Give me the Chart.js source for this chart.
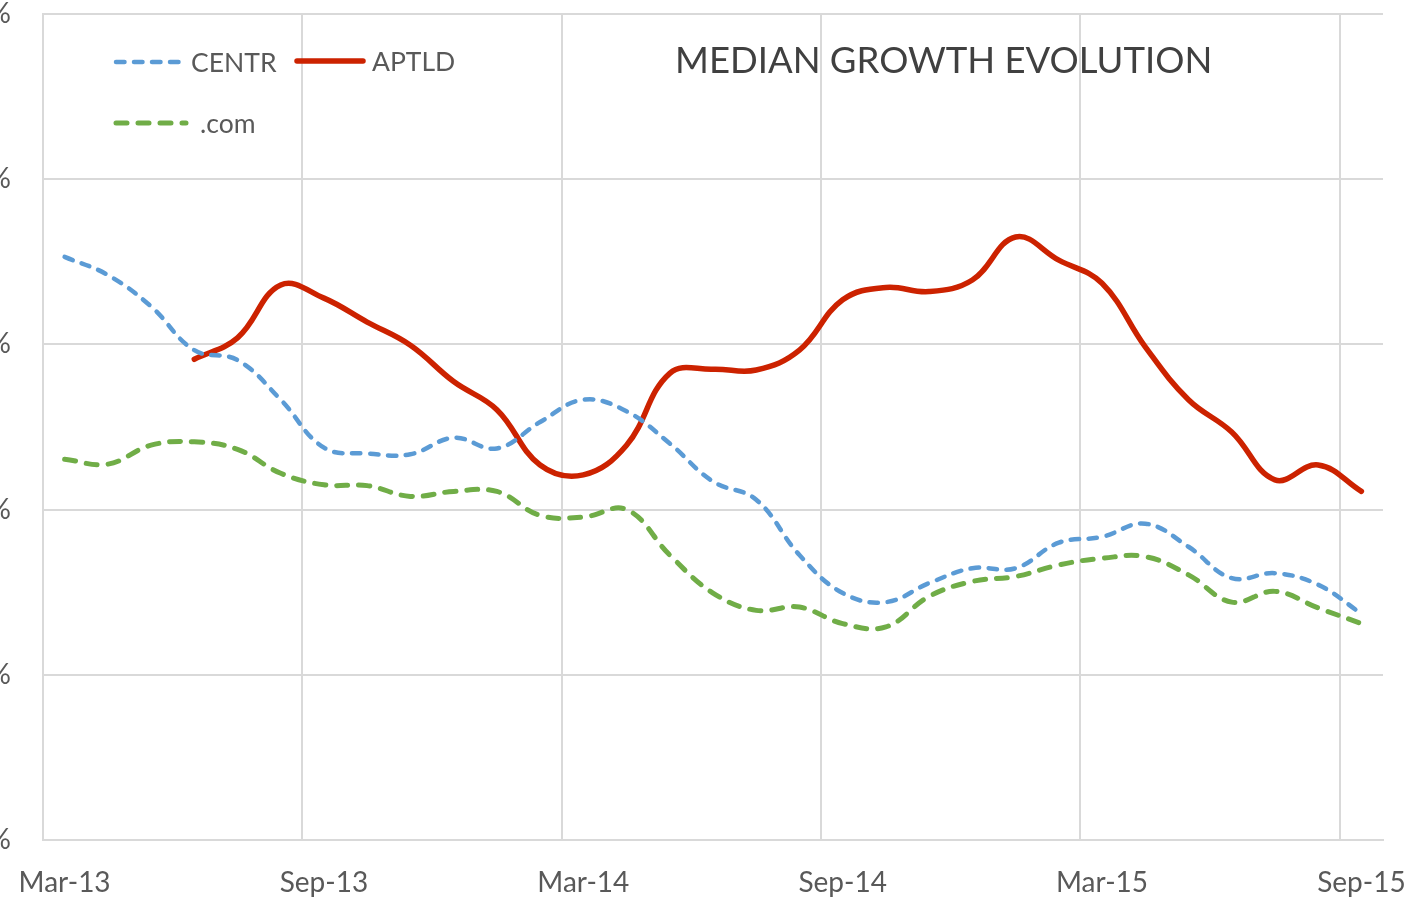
<!DOCTYPE html>
<html>
<head>
<meta charset="utf-8">
<script src="https://cdn.jsdelivr.net/npm/chart.js@4.4.0/dist/chart.umd.min.js"></script>
<style>
  body { margin: 0; background: #fff; font-family: Lato, sans-serif; }
  #page { position: relative; width: 1410px; height: 901px; overflow: hidden; }
  #chartBox { position: absolute; left: -40px; top: 0; width: 1450px; height: 901px; }
  .legend-item { position: absolute; display: flex; align-items: center; height: 30px; color: #595959; font-size: 26.5px; white-space: nowrap; }
  .legend-item svg { margin-right: 7px; }
  #title { position: absolute; left: 675px; top: 37px; font-size: 36.5px; color: #404040; white-space: nowrap; }
</style>
</head>
<body>
<div id="page">
  <div id="chartBox"><canvas id="growthChart"></canvas></div>
  <div id="legend"></div>
  <div id="title">MEDIAN GROWTH EVOLUTION</div>
</div>
<script>
// === Données ===
const months = ['Mar-13', 'Apr-13', 'May-13', 'Jun-13', 'Jul-13', 'Aug-13', 'Sep-13', 'Oct-13', 'Nov-13', 'Dec-13',
  'Jan-14', 'Feb-14', 'Mar-14', 'Apr-14', 'May-14', 'Jun-14', 'Jul-14', 'Aug-14', 'Sep-14', 'Oct-14',
  'Nov-14', 'Dec-14', 'Jan-15', 'Feb-15', 'Mar-15', 'Apr-15', 'May-15', 'Jun-15', 'Jul-15', 'Aug-15', 'Sep-15'];

const centr = [7.06, 6.84, 6.46, 5.93, 5.81, 5.33, 4.75, 4.68, 4.67, 4.87,
  4.74, 5.06, 5.33, 5.19, 4.80, 4.34, 4.12, 3.45, 2.99, 2.88,
  3.11, 3.29, 3.29, 3.60, 3.67, 3.83, 3.55, 3.17, 3.23, 3.09, 2.74];

const aptld = [null, null, null, 5.82, 6.08, 6.72, 6.56, 6.27, 5.99, 5.55,
  5.21, 4.54, 4.42, 4.78, 5.65, 5.70, 5.69, 5.93, 6.54, 6.69,
  6.64, 6.78, 7.30, 7.02, 6.74, 5.97, 5.33, 4.94, 4.36, 4.54, 4.22];

const dotcom = [4.61, 4.55, 4.78, 4.82, 4.73, 4.44, 4.30, 4.29, 4.16, 4.22,
  4.22, 3.93, 3.91, 4.00, 3.45, 2.99, 2.78, 2.82, 2.62, 2.58,
  2.95, 3.13, 3.19, 3.33, 3.41, 3.43, 3.21, 2.88, 3.01, 2.81, 2.62];

const yTicks = [0, 2, 4, 6, 8, 10];

// === Styles ===
const textColor = '#595959';
const gridColor = '#d9d9d9';
const labelFont = { family: 'Lato', size: 28 };

const series = [
  { label: 'CENTR', data: centr, color: '#5b9bd5', width: 4.5, dash: [8.5, 9.5] },
  { label: 'APTLD', data: aptld, color: '#cc2200', width: 5.5, dash: [] },
  { label: '.com', data: dotcom, color: '#70ad47', width: 5, dash: [11, 11] }
];

// positions des entrées de légende (page)
const legendPos = [[113, 47], [294, 46], [113, 108]];

// === Graphique ===
const ctx = document.getElementById('growthChart').getContext('2d');
const chart = new Chart(ctx, {
  type: 'line',
  data: {
    labels: months,
    datasets: series.map(s => ({
      label: s.label,
      data: s.data,
      borderColor: s.color,
      borderWidth: s.width,
      borderDash: s.dash,
      borderCapStyle: 'round',
      borderJoinStyle: 'round',
      pointRadius: 0,
      tension: 0.4,
      fill: false
    }))
  },
  options: {
    responsive: true,
    maintainAspectRatio: false,
    animation: false,
    layout: { padding: { top: 14, right: 27, bottom: 0, left: 0 } },
    plugins: {
      legend: { display: false },
      title: { display: false },
      tooltip: { enabled: false }
    },
    scales: {
      x: {
        offset: true,
        grid: {
          offset: true,
          drawTicks: false,
          color: c => (c.index % 6 === 0 ? gridColor : 'rgba(0,0,0,0)'),
          lineWidth: 2
        },
        border: { color: gridColor, width: 2 },
        ticks: {
          autoSkip: false,
          maxRotation: 0,
          padding: 26,
          color: textColor,
          font: labelFont,
          callback: (v, i) => (i % 6 === 0 ? months[i] : '')
        },
        afterFit: s => { s.height = 61; s.paddingLeft = 0; s.paddingRight = 0; }
      },
      y: {
        min: 0,
        max: 10,
        afterBuildTicks: s => { s.ticks = yTicks.map(v => ({ value: v })); },
        grid: { drawTicks: false, color: gridColor, lineWidth: 2 },
        border: { color: gridColor, width: 2 },
        ticks: {
          padding: 32,
          color: textColor,
          font: labelFont,
          callback: v => v + '%'
        },
        afterFit: s => { s.width = 83; s.paddingTop = 0; s.paddingBottom = 0; }
      }
    }
  }
});

// === Légende ===
const legend = document.getElementById('legend');
series.forEach((s, i) => {
  const item = document.createElement('div');
  item.className = 'legend-item';
  item.style.left = legendPos[i][0] + 'px';
  item.style.top = legendPos[i][1] + 'px';
  const w = s.label === '.com' ? 76 : 72;
  item.innerHTML = `
    <svg width="${w}" height="12">
      <line x1="3" y1="6" x2="${w - 3}" y2="6" stroke="${s.color}" stroke-width="${s.width}"
        stroke-linecap="round" stroke-dasharray="${s.dash.join(' ')}"/>
    </svg>
    <span style="margin-left:${s.label === '.com' ? 4 : -1}px">${s.label}</span>`;
  legend.appendChild(item);
});
</script>
</body>
</html>
